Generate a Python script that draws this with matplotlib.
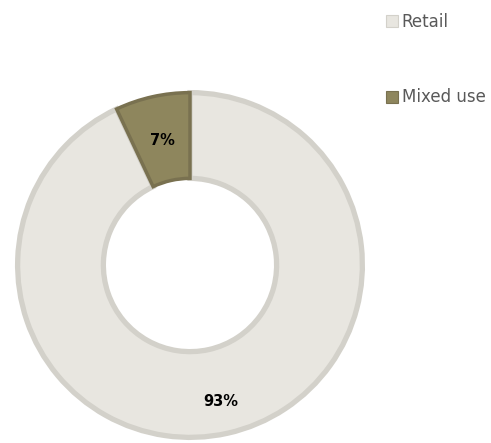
import numpy as np
import matplotlib.pyplot as plt
from matplotlib.patches import Patch

# Share of floor space by use
labels = ['Retail', 'Mixed use']
shares = [93, 7]

fill_colors = ['#e8e6e0', '#8e865d']
edge_colors = ['#d3d1ca', '#797150']
label_dist = [0.80, 0.73]

fig = plt.figure(figsize=(4.91, 4.43), dpi=100)
fig.patch.set_facecolor('white')

# donut: centre at (190, 265) px, outer radius 175 px
cx, cy, r = 190, 265, 175
ax = fig.add_axes([(cx - r) / 491, (443 - cy - r) / 443, 2 * r / 491, 2 * r / 443])

wedges, texts = ax.pie(
    shares, colors=fill_colors, startangle=90, counterclock=False,
    radius=0.985, wedgeprops=dict(width=0.49, linewidth=3.8),
)
for w, ec in zip(wedges, edge_colors):
    w.set_edgecolor(ec)
wedges[1].set_linewidth(2.5)

# percentage labels at each wedge's mid angle
for w, val, d in zip(wedges, shares, label_dist):
    mid = np.deg2rad((w.theta1 + w.theta2) / 2)
    ax.text(d * np.cos(mid), d * np.sin(mid), f'{val}%', ha='center', va='center',
            fontsize=10.5, fontweight='bold', color='black')

# pie() widens the limits, so pin them afterwards
ax.set_xlim(-1, 1)
ax.set_ylim(-1, 1)
ax.set_aspect('equal')
ax.axis('off')

handles = [Patch(facecolor=fc, edgecolor=ec, linewidth=0.8)
           for fc, ec in zip(fill_colors, edge_colors)]
fig.legend(handles, labels, loc='upper left', bbox_to_anchor=(386 / 491, 1 - 13 / 443),
           frameon=False, fontsize=12, labelcolor='#595959',
           handlelength=0.7, handleheight=0.7, handletextpad=0.25,
           labelspacing=3.45, borderpad=0, borderaxespad=0)

plt.savefig('out.png', dpi=100, facecolor='white')
